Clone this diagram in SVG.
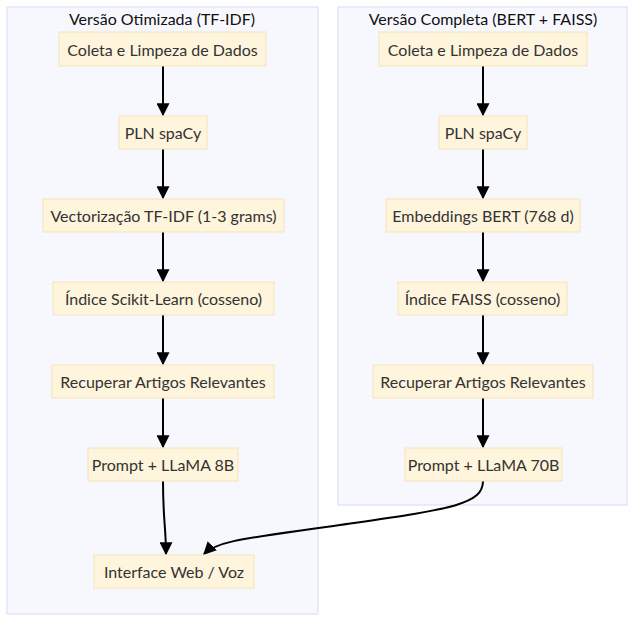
<svg xmlns="http://www.w3.org/2000/svg" width="644" height="629" viewBox="0 0 644 629">
<style>
.cl{fill:#f7f8fe;stroke:#e3e6f8;stroke-width:1.5}
.nd rect{fill:#fff4dc;stroke:#f6e2b8;stroke-width:1}
text{font-family:"Lato","Open Sans","DejaVu Sans",sans-serif;font-size:16px;fill:#333;text-anchor:middle;dominant-baseline:central}
.ct{fill:#111}
.e{fill:none;stroke:#000;stroke-width:2;marker-end:url(#ah)}
</style>
<defs>
<marker id="ah" viewBox="0 0 10 10" refX="9" refY="5" markerWidth="6.5" markerHeight="6.5" orient="auto" markerUnits="strokeWidth">
<path d="M0,0L10,5L0,10z" fill="#000"/>
</marker>
</defs>
<rect width="644" height="629" fill="#fff"/>
<g id="cluster-left">
<rect class="cl" x="7" y="7" width="311" height="607"/>
<text class="ct" x="162" y="18">Versão Otimizada (TF-IDF)</text>
</g>
<g id="cluster-right">
<rect class="cl" x="338" y="7" width="289" height="498"/>
<text class="ct" x="483" y="18">Versão Completa (BERT + FAISS)</text>
</g>
<g id="connectors">
<path class="e" d="M163,66V115"/>
<path class="e" d="M163,149V198"/>
<path class="e" d="M163,232V281"/>
<path class="e" d="M163,315V364"/>
<path class="e" d="M163,398V447"/>
<path class="e" d="M163,481C163,520 166,528 166,554"/>
<path class="e" d="M483,66V115"/>
<path class="e" d="M483,149V198"/>
<path class="e" d="M483,232V281"/>
<path class="e" d="M483,315V364"/>
<path class="e" d="M483,398V447"/>
<path class="e" d="M483,481C483,505 450,509 340,525C250,538 218,540 204,554"/>
</g>
<g id="L1" class="nd"><rect x="59" y="32" width="207" height="34"/><text x="162.5" y="49">Coleta e Limpeza de Dados</text></g>
<g id="L2" class="nd"><rect x="119" y="116" width="88" height="33"/><text x="163" y="132.5">PLN spaCy</text></g>
<g id="L3" class="nd"><rect x="43" y="199" width="241" height="33"/><text x="163.5" y="215.5">Vectorização TF-IDF (1-3 grams)</text></g>
<g id="L4" class="nd"><rect x="53" y="282" width="221" height="33"/><text x="163.5" y="298.5">Índice Scikit-Learn (cosseno)</text></g>
<g id="L5" class="nd"><rect x="52" y="365" width="222" height="33"/><text x="163" y="381.5">Recuperar Artigos Relevantes</text></g>
<g id="L6" class="nd"><rect x="88" y="448" width="150" height="33"/><text x="163" y="464.5">Prompt + LLaMA 8B</text></g>
<g id="L7" class="nd"><rect x="94" y="555" width="160" height="33"/><text x="174" y="571.5">Interface Web / Voz</text></g>
<g id="R1" class="nd"><rect x="379" y="32" width="208" height="34"/><text x="483" y="49">Coleta e Limpeza de Dados</text></g>
<g id="R2" class="nd"><rect x="439" y="116" width="88" height="33"/><text x="483" y="132.5">PLN spaCy</text></g>
<g id="R3" class="nd"><rect x="386" y="199" width="194" height="33"/><text x="483" y="215.5">Embeddings BERT (768 d)</text></g>
<g id="R4" class="nd"><rect x="398" y="282" width="169" height="33"/><text x="482.5" y="298.5">Índice FAISS (cosseno)</text></g>
<g id="R5" class="nd"><rect x="373" y="365" width="220" height="33"/><text x="483" y="381.5">Recuperar Artigos Relevantes</text></g>
<g id="R6" class="nd"><rect x="405" y="448" width="157" height="33"/><text x="483.5" y="464.5">Prompt + LLaMA 70B</text></g>
</svg>
